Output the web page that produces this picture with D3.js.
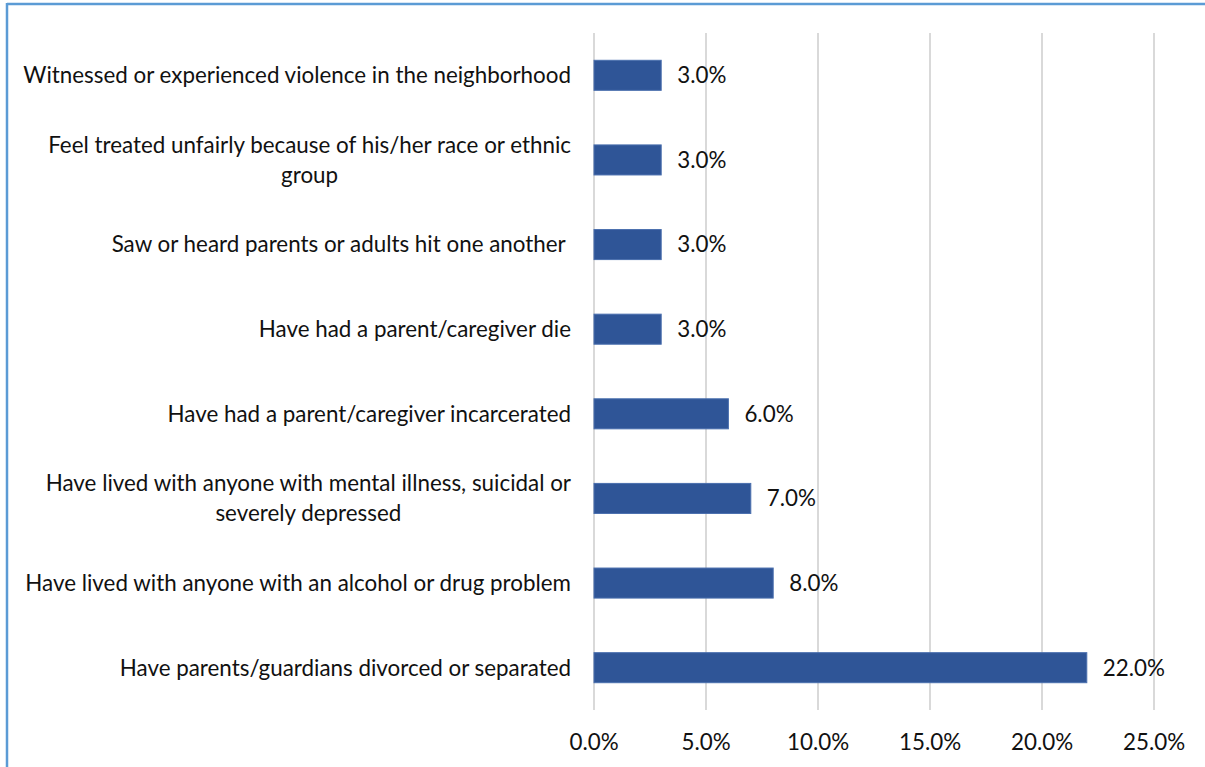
<!DOCTYPE html>
<html>
<head>
<meta charset="utf-8">
<script src="https://cdn.jsdelivr.net/npm/d3@7"></script>
<style>
  html, body { margin: 0; padding: 0; background: #fff; overflow: hidden; }
  svg { display: block; font-family: Lato, "Open Sans", sans-serif; }
  .grid line { stroke: #d9d9d9; stroke-width: 2; }
  .bar { fill: #2f5597; stroke: #4a6fae; stroke-width: 1; }
  .cat-label, .val-label, .tick-label { fill: #111; white-space: pre; }
</style>
</head>
<body>
<div id="chart"></div>
<script>
// categories top to bottom, multi-line labels split with "\n"
const categories = [
  "Witnessed or experienced violence in the neighborhood",
  "Feel treated unfairly because of his/her race or ethnic\ngroup",
  "Saw or heard parents or adults hit one another ",
  "Have had a parent/caregiver die",
  "Have had a parent/caregiver incarcerated",
  "Have lived with anyone with mental illness, suicidal or\nseverely depressed",
  "Have lived with anyone with an alcohol or drug problem",
  "Have parents/guardians divorced or separated"
];
const values = [3.0, 3.0, 3.0, 3.0, 6.0, 7.0, 8.0, 22.0];
const tickValues = [0, 5, 10, 15, 20, 25];

const W = 1205, H = 767;
const svg = d3.select("#chart").append("svg")
    .attr("width", W).attr("height", H);

// frame of the embedded chart (top and left edges visible)
svg.append("line").attr("x1", 7).attr("x2", W).attr("y1", 4).attr("y2", 4)
    .attr("stroke", "#5b9bd5").attr("stroke-width", 2.5);
svg.append("line").attr("x1", 7).attr("x2", 7).attr("y1", 3).attr("y2", H)
    .attr("stroke", "#5b9bd5").attr("stroke-width", 2.5);

const x = d3.scaleLinear().domain([0, 25]).range([594, 1154]);
const y = d3.scaleBand().domain(categories).range([33, 710])
    .paddingInner(0.645).paddingOuter(0.3225);

// font size fitted so the longest one-line label spans like the original
const probe = svg.append("text").attr("font-size", 100)
    .text("Have lived with anyone with an alcohol or drug problem");
const fs = 100 * 546 / probe.node().getComputedTextLength();
probe.remove();

const grid = svg.append("g").attr("class", "grid");
grid.selectAll("line").data(tickValues).enter().append("line")
    .attr("x1", d => x(d)).attr("x2", d => x(d))
    .attr("y1", 33).attr("y2", 710);

svg.append("g").selectAll("rect").data(values).enter().append("rect")
    .attr("class", "bar")
    .attr("x", x(0))
    .attr("y", (d, i) => y(categories[i]))
    .attr("width", d => x(d) - x(0))
    .attr("height", y.bandwidth());

svg.append("g").selectAll("text").data(values).enter().append("text")
    .attr("class", "val-label")
    .attr("x", d => x(d) + 16)
    .attr("y", (d, i) => y(categories[i]) + y.bandwidth() / 2)
    .attr("dy", "0.35em")
    .attr("font-size", fs)
    .text(d => d.toFixed(1) + "%");

// category labels, right aligned; wrapped lines centred on the widest line
const labels = svg.append("g");
categories.forEach(c => {
  const lines = c.split("\n");
  const cy = y(c) + y.bandwidth() / 2;
  const lh = 30;
  const t = labels.append("text").attr("class", "cat-label").attr("font-size", fs);
  if (lines.length === 1) {
    t.attr("x", 571).attr("y", cy).attr("dy", "0.35em")
      .attr("text-anchor", "end").text(lines[0]);
  } else {
    const tmp = t.text(lines[0]);
    const w = tmp.node().getComputedTextLength();
    t.text(null);
    const mid = 571 - w / 2;
    lines.forEach((ln, k) => {
      t.append("tspan")
        .attr("x", mid)
        .attr("y", cy + (k - (lines.length - 1) / 2) * lh)
        .attr("dy", "0.35em")
        .attr("text-anchor", "middle")
        .text(ln);
    });
  }
});

svg.append("g").selectAll("text").data(tickValues).enter().append("text")
    .attr("class", "tick-label")
    .attr("x", d => x(d))
    .attr("y", 742)
    .attr("dy", "0.35em")
    .attr("text-anchor", "middle")
    .attr("font-size", fs)
    .text(d => d.toFixed(1) + "%");
</script>
</body>
</html>
